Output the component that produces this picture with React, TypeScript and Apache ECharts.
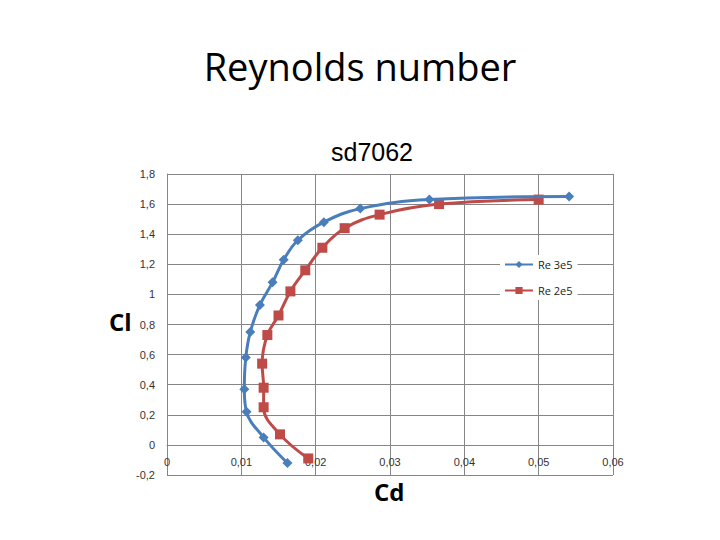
import React, { useEffect, useRef } from "react";
import * as echarts from "echarts";

const re3e5Cd = [0.0162, 0.013, 0.0107, 0.0104, 0.0106, 0.0112, 0.0125, 0.0142, 0.0157, 0.0176, 0.0211, 0.026, 0.0353, 0.0541];
const re3e5Cl = [-0.12, 0.05, 0.22, 0.37, 0.58, 0.75, 0.93, 1.08, 1.23, 1.36, 1.48, 1.57, 1.63, 1.65];
const re2e5Cd = [0.019, 0.0152, 0.013, 0.013, 0.0128, 0.0135, 0.015, 0.0166, 0.0186, 0.0209, 0.0239, 0.0286, 0.0366, 0.05];
const re2e5Cl = [-0.09, 0.07, 0.25, 0.38, 0.54, 0.73, 0.86, 1.02, 1.16, 1.31, 1.44, 1.53, 1.6, 1.63];
const seriesNames = ["Re 3e5", "Re 2e5"];
const mainTitle = "Reynolds number";
const chartTitle = "sd7062";
const xName = "Cd";
const yName = "Cl";

const fmt = (v: number) => String(+v.toFixed(3)).replace(".", ",");

export default function App() {
  const ref = useRef<HTMLDivElement>(null);
  useEffect(() => {
    if (!ref.current) return;
    const chart = echarts.init(ref.current, undefined, { renderer: "svg" });
    const pair = (xs: number[], ys: number[]) => xs.map((x, i) => [x, ys[i]]);
    chart.setOption({
      animation: false,
      backgroundColor: "#ffffff",
      title: [
        {
          text: mainTitle,
          left: 355,
          top: 42,
          textAlign: "center",
          textStyle: { fontFamily: "Open Sans", fontSize: 38, fontWeight: "normal", color: "#000" },
        },
        {
          text: chartTitle,
          left: 367,
          top: 134,
          textAlign: "center",
          textStyle: { fontFamily: "Liberation Sans", fontSize: 25, fontWeight: "normal", color: "#000" },
        },
      ],
      graphic: [
        {
          type: "text",
          left: 109,
          top: 309,
          style: { text: yName, fontFamily: "Open Sans", fontSize: 24, fontWeight: "bold", fill: "#000" },
        },
        {
          type: "text",
          left: 374,
          top: 479,
          style: { text: xName, fontFamily: "Open Sans", fontSize: 24, fontWeight: "bold", fill: "#000" },
        },
      ],
      legend: {
        orient: "vertical",
        left: 500,
        top: 255,
        itemWidth: 28,
        itemHeight: 9,
        itemGap: 15,
        padding: [4, 5, 4, 4],
        backgroundColor: "#ffffff",
        textStyle: { fontFamily: "Open Sans", fontSize: 11, color: "#222" },
        data: seriesNames,
      },
      grid: { left: 167, right: 107, top: 174, bottom: 65, containLabel: false },
      xAxis: {
        type: "value",
        min: 0,
        max: 0.06,
        interval: 0.01,
        offset: -30,
        axisLine: { show: true, onZero: false, lineStyle: { color: "#868686" } },
        axisTick: { show: false },
        axisLabel: { formatter: fmt, fontFamily: "Liberation Sans", fontSize: 11, color: "#333", margin: 11 },
        splitLine: { show: true, lineStyle: { color: "#868686", width: 1 } },
      },
      yAxis: {
        type: "value",
        min: -0.2,
        max: 1.8,
        interval: 0.2,
        axisLine: { show: true, onZero: false, lineStyle: { color: "#868686" } },
        axisTick: { show: false },
        axisLabel: { formatter: fmt, fontFamily: "Liberation Sans", fontSize: 11, color: "#333", margin: 12 },
        splitLine: { show: true, lineStyle: { color: "#868686", width: 1 } },
      },
      series: [
        {
          name: seriesNames[0],
          type: "line",
          smooth: 0.4,
          data: pair(re3e5Cd, re3e5Cl),
          symbol: "diamond",
          symbolSize: 10,
          lineStyle: { color: "#4a7ebb", width: 3 },
          itemStyle: { color: "#4a7ebb" },
          z: 3,
        },
        {
          name: seriesNames[1],
          type: "line",
          smooth: 0.4,
          data: pair(re2e5Cd, re2e5Cl),
          symbol: "rect",
          symbolSize: 10,
          lineStyle: { color: "#be4b48", width: 3 },
          itemStyle: { color: "#be4b48" },
          z: 2,
        },
      ],
    });
    return () => chart.dispose();
  }, []);
  return <div ref={ref} style={{ width: 720, height: 540, position: "absolute", left: 0, top: 0 }} />;
}
